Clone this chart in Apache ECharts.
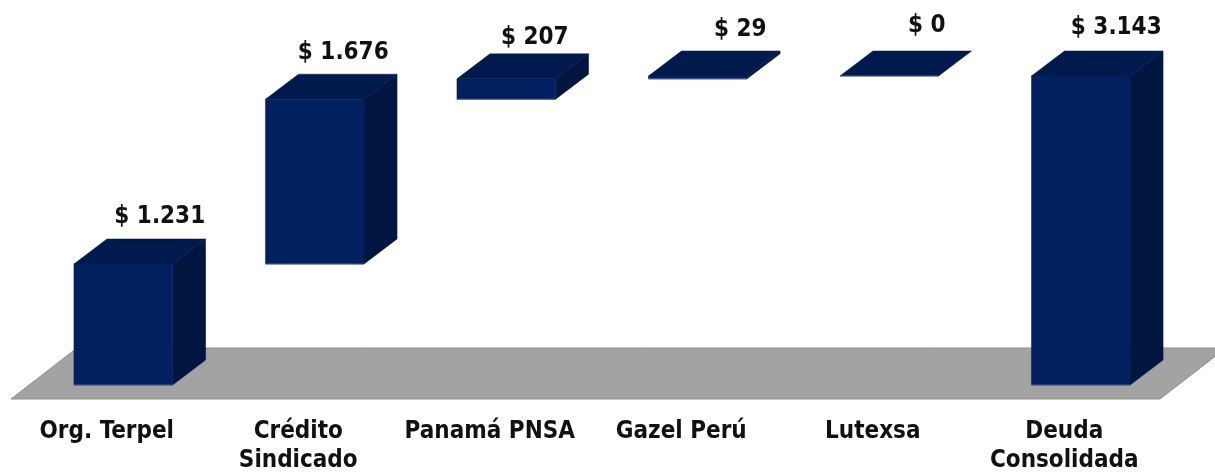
<!DOCTYPE html>
<html>
<head>
<meta charset="utf-8">
<style>html,body{margin:0;padding:0;background:#fff}#c{width:1215px;height:473px}</style>
<script src="https://cdn.jsdelivr.net/npm/echarts@6/dist/echarts.min.js"></script>
</head>
<body>
<div id="c"></div>
<script>
const categories = ['Org. Terpel', 'Crédito\nSindicado', 'Panamá PNSA', 'Gazel Perú', 'Lutexsa', 'Deuda\nConsolidada'];
const values = [1231, 1676, 207, 29, 0, 3143];
const bases = [0, 1231, 2907, 3114, 3143, 0];
const valueLabels = ['$ 1.231', '$ 1.676', '$ 207', '$ 29', '$ 0', '$ 3.143'];

// Layout and style (not data)
const labelNudgeX = [53, 45, 45, 59, 54, 52];
const labelNudgeY = [22, 21, 16, 21, 25, 23];
const FONT = '"DejaVu Sans Condensed", "DejaVu Sans", sans-serif';
const FRONT = '#002060', TOP = '#001a4e', SIDE = '#00153f', EDGE = '#4a6190';
const DX = 33, DY = 25, FLOOR_DX = 16.5, FLOOR_DY = 14;

const chart = echarts.init(document.getElementById('c'), null, {renderer: 'canvas'});

function poly(points, fill, stroke) {
  return {type: 'polygon', shape: {points}, style: {fill, stroke: stroke || fill, lineWidth: stroke ? 1 : 0.5, lineJoin: 'round'}};
}

chart.setOption({
  animation: false,
  backgroundColor: '#ffffff',
  grid: {left: 11, right: 55, top: 90, bottom: 74, containLabel: false, outerBoundsMode: 'none'},
  xAxis: {
    type: 'category',
    data: categories,
    axisLine: {show: false},
    axisTick: {show: false},
    splitLine: {show: false},
    axisLabel: {
      interval: 0, color: '#111', fontFamily: FONT, fontWeight: 'bold',
      fontSize: 24, lineHeight: 29, margin: 18, verticalAlign: 'top'
    }
  },
  yAxis: {type: 'value', min: 0, max: 3143, show: false, splitLine: {show: false}},
  series: [
    {
      type: 'custom', name: 'floor', clip: false, z: 1,
      data: [[0, 0]],
      renderItem(params, api) {
        const cs = params.coordSys;
        const y0 = api.coord([0, 0])[1];
        const l = cs.x, r = cs.x + cs.width;
        const d = 66, h = 51;
        return poly([[l, y0], [r, y0], [r + d, y0 - h], [l + d, y0 - h]], '#a3a3a3', '#8e8e8e');
      }
    },
    {
      type: 'custom', name: 'bars', clip: false, z: 2,
      encode: {x: 0, y: 2},
      data: categories.map((c, i) => [i, bases[i], bases[i] + values[i]]),
      renderItem(params, api) {
        const i = api.value(0);
        const b = api.coord([i, api.value(1)]);
        const t = api.coord([i, api.value(2)]);
        const w = api.size([1, 0])[0] * 0.515;
        const x0 = b[0] + FLOOR_DX - w / 2, x1 = x0 + w;
        const yb = b[1] - FLOOR_DY, yt = t[1] - FLOOR_DY;
        const children = [];
        if (yb - yt > 0.01) {
          children.push(poly([[x1, yt], [x1 + DX, yt - DY], [x1 + DX, yb - DY], [x1, yb]], SIDE));
          children.push(poly([[x0, yt], [x1, yt], [x1, yb], [x0, yb]], FRONT));
        }
        children.push(poly([[x0, yt], [x1, yt], [x1 + DX, yt - DY], [x0 + DX, yt - DY]], TOP));
        children.push({type: 'line', shape: {x1: x0, y1: yb, x2: x1, y2: yb}, style: {stroke: EDGE, lineWidth: 1}});
        children.push({
          type: 'text',
          style: {
            text: valueLabels[i],
            x: b[0] + labelNudgeX[i],
            y: t[1] - FLOOR_DY - DY - labelNudgeY[i],
            fill: '#111', font: 'bold 24px ' + FONT,
            align: 'center', verticalAlign: 'middle'
          }
        });
        return {type: 'group', children};
      }
    }
  ]
});
</script>
</body>
</html>
